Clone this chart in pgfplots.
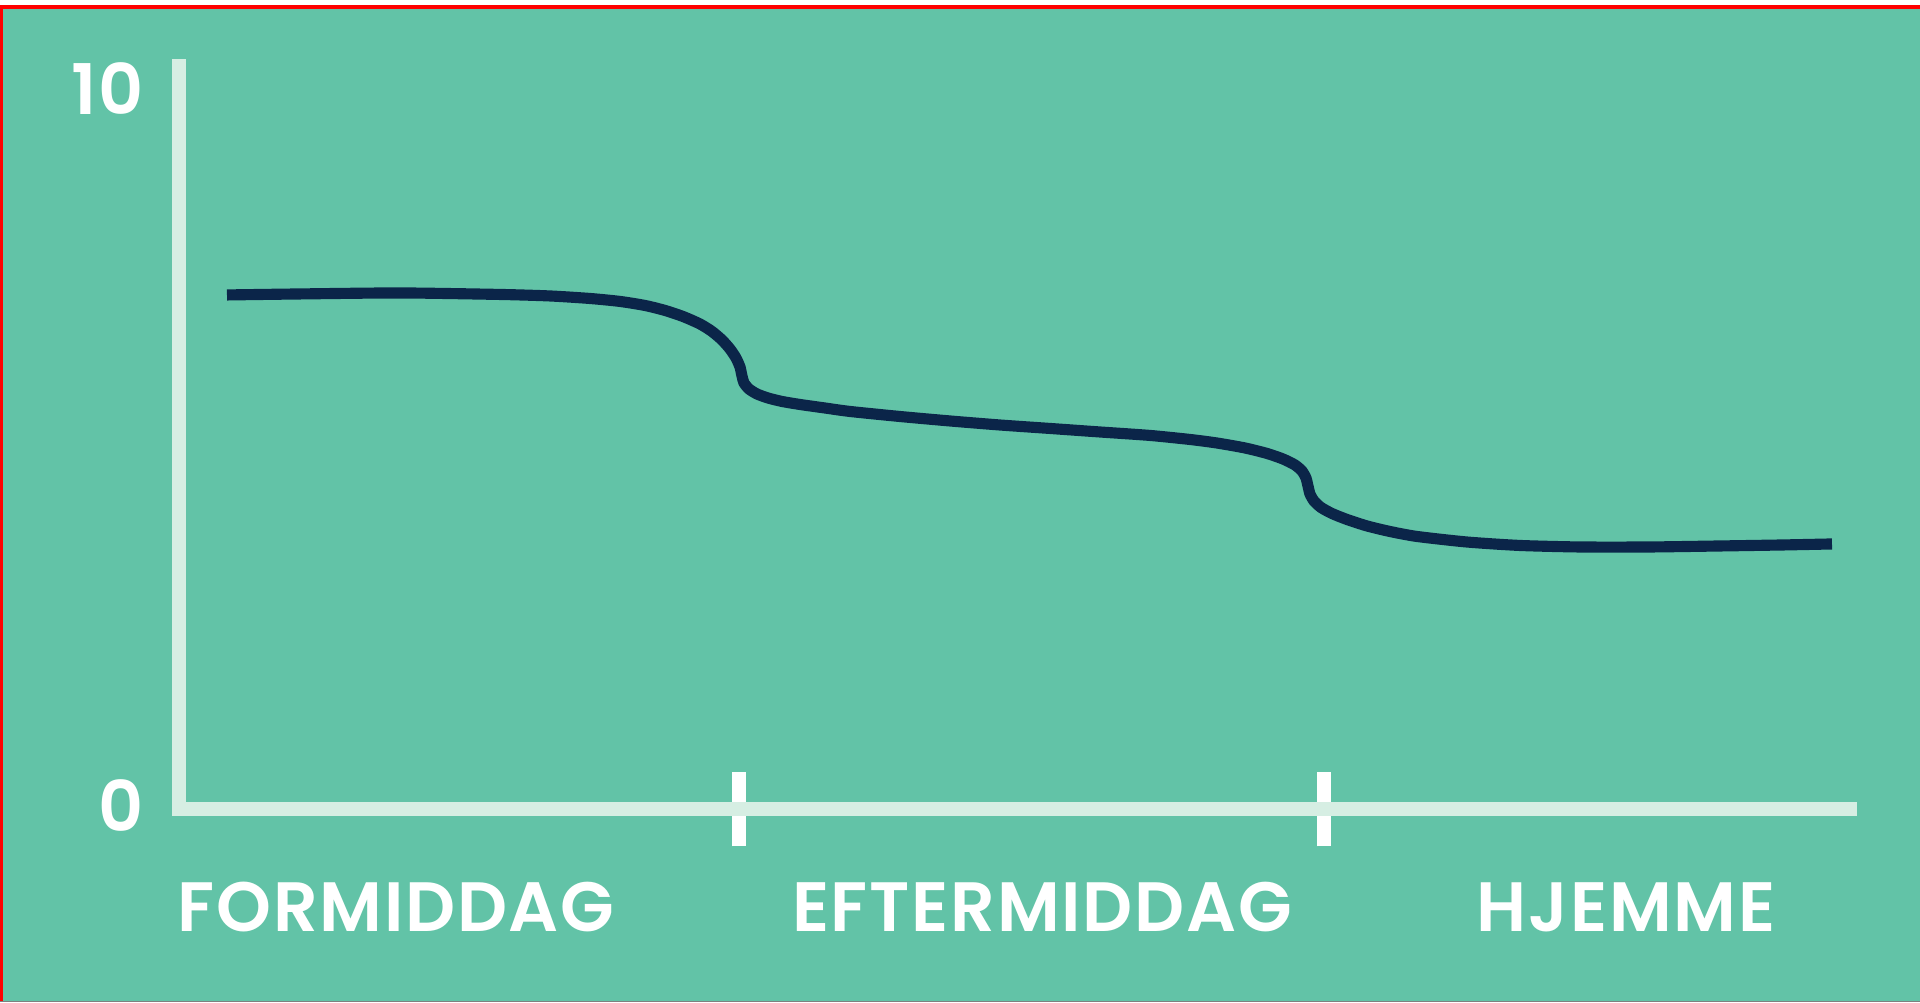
\documentclass[border=0pt]{standalone}
\usepackage{fontspec}
\setmainfont{Poppins}[BoldFont={Poppins SemiBold}, LetterSpace=2.5]
\usepackage{pgfplots}
\pgfplotsset{compat=1.18}
\definecolor{bg}{HTML}{62C3A7}
\definecolor{axc}{HTML}{D6EEE3}
\definecolor{navy}{HTML}{0B2549}
\definecolor{bordred}{HTML}{FF0000}
\begin{document}
\begin{tikzpicture}[x=1cm,y=1cm]
\fill[bg] (0,0) rectangle (20,10.4375);
\useasboundingbox (0,0) rectangle (20,10.4375);
\fill[white] (0,10.3854) rectangle (20,10.4375);
\fill[bordred] (0,10.3438) rectangle (20,10.3854);
\fill[bordred] (0,0) rectangle (0.03,10.3854);
\fill[gray] (0,0) rectangle (20,0.0104);
\begin{axis}[
  at={(1.8646cm,2.0104cm)}, anchor=south west,
  scale only axis, width=17.406cm, height=7.740cm,
  xmin=179, xmax=1850, ymin=0, ymax=10.319,
  axis lines=left,
  axis line style={-, draw=axc, line width=4.2pt, line cap=rect},
  clip=false,
  tick align=center,
  major tick length=0.78cm,
  xtick={739,1324},
  xticklabels={,},
  xtick style={draw=white, line width=4.2pt},
  extra x ticks={396,1042,1626},
  extra x tick labels={FORMIDDAG,EFTERMIDDAG,HJEMME},
  extra x tick style={major tick length=0pt, tick style={draw=none}},
  ytick={0,10},
  yticklabels={\raisebox{0.075cm}{0},10},
  ytick style={draw=none},
  tick label style={font=\fontsize{20.7}{24}\selectfont\bfseries, text=white},
  xticklabel style={anchor=base, inner sep=0pt, yshift=-1.281cm},
  yticklabel style={anchor=east, inner sep=0pt, xshift=0.03cm},
]
\addplot[navy, line width=3.3pt, smooth, tension=0.4] coordinates {
(227,7.139) (300,7.153) (400,7.167) (500,7.146) (550,7.125) (590,7.090)
(620,7.049) (645,6.993) (665,6.924) (683,6.840) (700,6.736) (712,6.632)
(722,6.514) (730,6.389) (736,6.264) (740,6.139) (742,6.014) (744,5.917)
(749,5.833) (757,5.764) (768,5.708) (782,5.660) (800,5.618) (825,5.569)
(850,5.521) (900,5.451) (950,5.389) (1000,5.333) (1050,5.285) (1100,5.236)
(1150,5.188) (1190,5.132) (1217,5.083) (1245,5.014) (1267,4.938) (1283,4.861)
(1295,4.778) (1302,4.694) (1306,4.597) (1308,4.486) (1310,4.375) (1314,4.278)
(1321,4.188) (1332,4.104) (1347,4.021) (1367,3.931) (1390,3.854) (1417,3.785)
(1467,3.708) (1520,3.660) (1580,3.639) (1650,3.639) (1720,3.653) (1783,3.667)
(1832,3.681)
};
\end{axis}
\end{tikzpicture}
\end{document}
